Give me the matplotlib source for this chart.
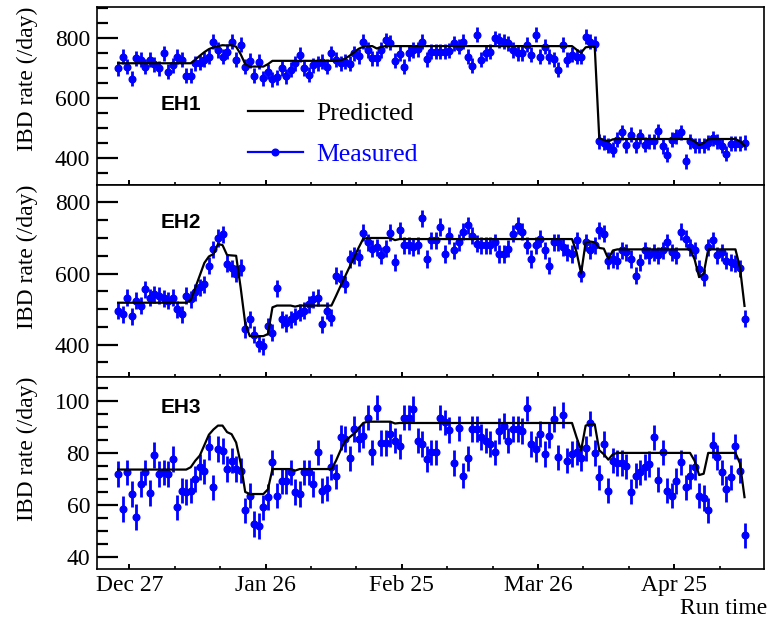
import numpy as np
import matplotlib
matplotlib.use("Agg")
import matplotlib.pyplot as plt
from matplotlib.lines import Line2D
from matplotlib.ticker import FixedLocator, MultipleLocator

# Daily bins, days counted from Dec 27 (bin centres)
days = np.arange(-3, 136) + 0.5

tick_days = [0, 30, 60, 90, 120]
tick_labels = ["Dec 27", "Jan 26", "Feb 25", "Mar 26", "Apr 25"]

hall_names = ["EH1", "EH2", "EH3"]

# ---- EH1 ----
eh1_measured = [
    698, 737, 704, 663, 731, 726, 704, 726, 712, 698, 748, 687, 709, 737, 726,
    673, 673, 715, 717, 726, 737, 787, 759, 737, 754, 787, 726, 776, 704, 723,
    673, 720, 665, 687, 662, 668, 698, 671, 693, 715, 743, 698, 676, 709, 715,
    720, 704, 748, 726, 715, 720, 713, 748, 739, 787, 759, 731, 731, 759, 792,
    783, 724, 746, 704, 748, 759, 761, 787, 728, 754, 754, 754, 754, 757, 781,
    770, 787, 737, 706, 809, 726, 748, 754, 798, 792, 787, 781, 759, 748, 748,
    776, 743, 809, 737, 770, 737, 728, 693, 776, 726, 743, 737, 737, 803, 787,
    780, 455, 450, 441, 428, 461, 485, 442, 477, 442, 472, 444, 455, 455, 488,
    439, 411, 461, 472, 485, 389, 455, 442, 442, 442, 450, 466, 455, 441, 414,
    448, 448, 448, 450,
]
eh1_predicted = [
    715, 715, 715, 715, 715, 715, 715, 715, 715, 715, 715, 715, 715, 715, 715,
    715, 715, 727, 740, 752, 762, 768, 772, 775, 774, 775, 770, 745, 712, 704,
    704, 704, 704, 712, 723, 723, 723, 723, 723, 723, 723, 723, 723, 723, 723,
    723, 723, 723, 723, 725, 730, 740, 752, 763, 770, 772, 772, 764, 770, 772,
    772, 772, 772, 772, 772, 772, 772, 772, 772, 772, 772, 772, 772, 772, 772,
    772, 772, 772, 772, 772, 772, 772, 772, 772, 772, 772, 772, 772, 772, 772,
    772, 772, 772, 772, 772, 772, 772, 772, 772, 772, 772, 760, 750, 768, 770,
    770, 466, 460, 455, 462, 463, 463, 463, 463, 463, 463, 463, 463, 463, 463,
    463, 463, 463, 463, 463, 463, 463, 455, 443, 450, 462, 463, 463, 463, 463,
    463, 463, 455, 441,
]
eh1_error = 25

# ---- EH2 ----
eh2_measured = [
    495, 485, 532, 480, 523, 509, 556, 532, 542, 537, 530, 523, 532, 499, 485,
    537, 528, 547, 561, 570, 622, 668, 700, 710, 627, 615, 599, 617, 443, 471,
    428, 403, 395, 452, 433, 558, 471, 461, 471, 480, 490, 495, 513, 528, 532,
    457, 495, 476, 594, 586, 570, 641, 652, 646, 715, 688, 670, 674, 651, 670,
    715, 632, 722, 679, 679, 674, 679, 756, 641, 693, 693, 731, 655, 707, 665,
    688, 717, 736, 707, 684, 679, 679, 679, 688, 655, 655, 670, 712, 734, 717,
    679, 641, 679, 698, 665, 622, 688, 688, 674, 660, 655, 693, 599, 688, 665,
    680, 722, 712, 636, 641, 636, 665, 660, 641, 594, 632, 665, 651, 660, 651,
    665, 688, 660, 651, 717, 698, 674, 665, 613, 589, 674, 693, 651, 660, 636,
    632, 627, 615, 473,
]
eh2_predicted = [
    518, 518, 518, 518, 518, 518, 518, 518, 518, 518, 518, 518, 518, 518, 518,
    518, 525, 560, 595, 630, 648, 655, 683, 680, 652, 651, 650, 560, 460, 424,
    424, 424, 424, 430, 505, 510, 510, 510, 510, 507, 510, 510, 510, 510, 510,
    510, 510, 510, 537, 565, 592, 619, 646, 673, 698, 700, 700, 700, 700, 700,
    700, 694, 697, 697, 697, 697, 697, 697, 697, 697, 697, 697, 697, 697, 697,
    697, 697, 697, 697, 697, 697, 697, 697, 697, 697, 697, 697, 697, 697, 697,
    697, 697, 697, 697, 697, 697, 697, 697, 697, 697, 697, 660, 600, 688, 690,
    688, 672, 670, 641, 665, 668, 668, 668, 668, 668, 668, 668, 668, 668, 668,
    668, 668, 668, 668, 668, 668, 668, 640, 590, 600, 668, 668, 668, 668, 668,
    668, 668, 617, 509,
]
eh2_error = 24

# ---- EH3 ----
eh3_measured = [
    71.9, 58.5, 72.5, 64.2, 55.3, 68.1, 72.5, 64.6, 79.2, 71.9, 72.5, 71.9, 77.6, 59.1, 65.5,
    64.9, 65.5, 70.0, 74.5, 72.9, 82.1, 66.8, 81.5, 80.8, 73.8, 77.0, 73.8, 73.2, 57.9, 63.6,
    52.7, 51.9, 59.1, 63.0, 76.4, 63.6, 69.3, 69.3, 72.5, 64.9, 64.2, 72.5, 72.5, 68.1, 80.2,
    65.5, 66.4, 74.5, 71.0, 86.0, 85.3, 77.9, 89.1, 85.3, 86.6, 93.6, 80.2, 97.4, 83.8, 83.8,
    87.2, 84.7, 82.5, 93.6, 93.6, 96.8, 84.7, 83.4, 77.6, 80.2, 80.2, 93.6, 91.7, 88.9, 76.1,
    89.4, 71.3, 77.9, 89.1, 89.1, 86.2, 84.7, 83.4, 80.2, 88.5, 90.4, 84.7, 89.1, 89.1, 88.5,
    97.1, 83.4, 81.5, 87.2, 79.6, 86.6, 93.0, 78.3, 94.5, 77.0, 79.6, 80.2, 77.9, 81.7, 91.4,
    80.0, 70.6, 83.4, 65.5, 77.0, 76.1, 76.1, 74.8, 65.1, 71.3, 72.5, 74.5, 75.7, 86.0, 69.7,
    80.2, 65.5, 63.6, 69.3, 76.4, 66.8, 71.0, 74.5, 63.6, 62.6, 57.9, 83.0, 78.3, 72.5, 66.2,
    70.6, 82.5, 73.2, 48.3,
]
eh3_predicted = [
    73.6, 73.6, 73.6, 73.6, 73.6, 73.6, 73.6, 73.6, 73.6, 73.6, 73.6, 73.6, 73.6, 73.6, 73.6,
    73.6, 74.5, 77.0, 79.0, 83.0, 87.0, 89.0, 90.5, 90.5, 88.0, 87.2, 84.0, 76.0, 65.0, 64.2,
    64.2, 64.2, 64.2, 66.0, 73.8, 73.8, 73.8, 73.8, 73.8, 73.2, 73.8, 73.8, 73.8, 73.8, 73.8,
    73.8, 73.8, 73.8, 77.0, 81.0, 84.5, 86.0, 87.5, 89.5, 91.5, 92.0, 92.0, 92.0, 92.0, 92.0,
    92.0, 91.3, 91.5, 91.5, 91.5, 91.5, 91.5, 91.5, 91.5, 91.5, 91.5, 91.5, 91.5, 91.5, 91.5,
    91.5, 91.5, 91.5, 91.5, 91.5, 91.5, 91.5, 91.5, 91.5, 91.5, 91.5, 91.5, 91.5, 91.5, 91.5,
    91.5, 91.5, 91.5, 91.5, 91.5, 91.5, 91.5, 91.5, 91.5, 91.5, 91.5, 86.0, 81.0, 90.5, 91.0,
    91.0, 81.0, 79.5, 77.4, 79.5, 80.0, 80.0, 80.0, 80.0, 80.0, 80.0, 80.0, 80.0, 80.0, 80.0,
    80.0, 80.0, 80.0, 80.0, 80.0, 80.0, 80.0, 77.0, 71.5, 72.0, 80.0, 80.0, 80.0, 80.0, 80.0,
    80.0, 80.0, 76.0, 63.0,
]
eh3_error = 4.9

measured = [eh1_measured, eh2_measured, eh3_measured]
predicted = [eh1_predicted, eh2_predicted, eh3_predicted]
errors = [eh1_error, eh2_error, eh3_error]

y_limits = [(310, 903), (310, 849), (35.4, 109.3)]
y_major = [[400, 600, 800], [400, 600, 800], [40, 60, 80, 100]]
y_minor_step = [50, 50, 5]

serif = "Liberation Serif"
plt.rcParams["font.family"] = serif
plt.rcParams["mathtext.fontset"] = "stix"

fig = plt.figure(figsize=(7.73, 6.28), dpi=100)
left, width = 0.1255, 0.8629
panel_boxes = [
    (left, 0.7054, width, 0.2839),
    (left, 0.4002, width, 0.3052),
    (left, 0.0940, width, 0.3062),
]
label_ys = [0.454, 0.804, 0.842]

axes = []
for k in range(3):
    ax = fig.add_axes(panel_boxes[k])
    axes.append(ax)
    meas = np.asarray(measured[k], dtype=float)
    pred = np.asarray(predicted[k], dtype=float)

    ax.plot(days, pred, color="black", lw=1.6, zorder=3)
    ax.errorbar(days, meas, yerr=errors[k], fmt="o", color="#0000ff",
                ms=4.8, elinewidth=2.0, capsize=0, zorder=2)

    ax.set_xlim(-7.15, 139.8)
    ax.set_ylim(*y_limits[k])

    ax.xaxis.set_major_locator(FixedLocator(tick_days))
    ax.xaxis.set_minor_locator(MultipleLocator(10))
    ax.yaxis.set_major_locator(FixedLocator(y_major[k]))
    ax.yaxis.set_minor_locator(MultipleLocator(y_minor_step[k]))

    ax.tick_params(axis="y", which="major", direction="in", length=15,
                   width=1.6, labelsize=17, pad=5)
    ax.tick_params(axis="y", which="minor", direction="in", length=8,
                   width=1.6)
    ax.tick_params(axis="x", which="major", direction="in", length=3.5,
                   width=1.4, labelsize=17, pad=4)
    ax.tick_params(axis="x", which="minor", direction="in", length=2,
                   width=1.2)
    if k < 2:
        ax.tick_params(axis="x", labelbottom=False)
    else:
        ax.set_xticklabels(tick_labels)

    for sp in ax.spines.values():
        sp.set_linewidth(1.2)

    ax.set_ylabel("IBD rate (/day)", fontsize=17, loc="top")
    ax.yaxis.set_label_coords(-0.0885, 1.0)

    ax.text(0.0955, label_ys[k], hall_names[k], transform=ax.transAxes,
            fontsize=15, fontweight="bold", family="Liberation Sans",
            ha="left", va="center")

handles = [
    Line2D([], [], color="black", lw=1.6),
    Line2D([], [], color="#0000ff", lw=1.6, marker="o", ms=4.8),
]
leg = axes[0].legend(handles, ["Predicted", "Measured"], loc="center left",
                     bbox_to_anchor=(0.226, 0.286), frameon=False,
                     fontsize=18.5, borderpad=0, borderaxespad=0,
                     handlelength=2.15, handletextpad=0.5, labelspacing=0.68)
leg.get_texts()[1].set_color("#0000ff")

fig.text(0.993, 1 - 608 / 628, "Run time", fontsize=17, ha="right",
         va="center")

fig.savefig("out.png", dpi=100)
